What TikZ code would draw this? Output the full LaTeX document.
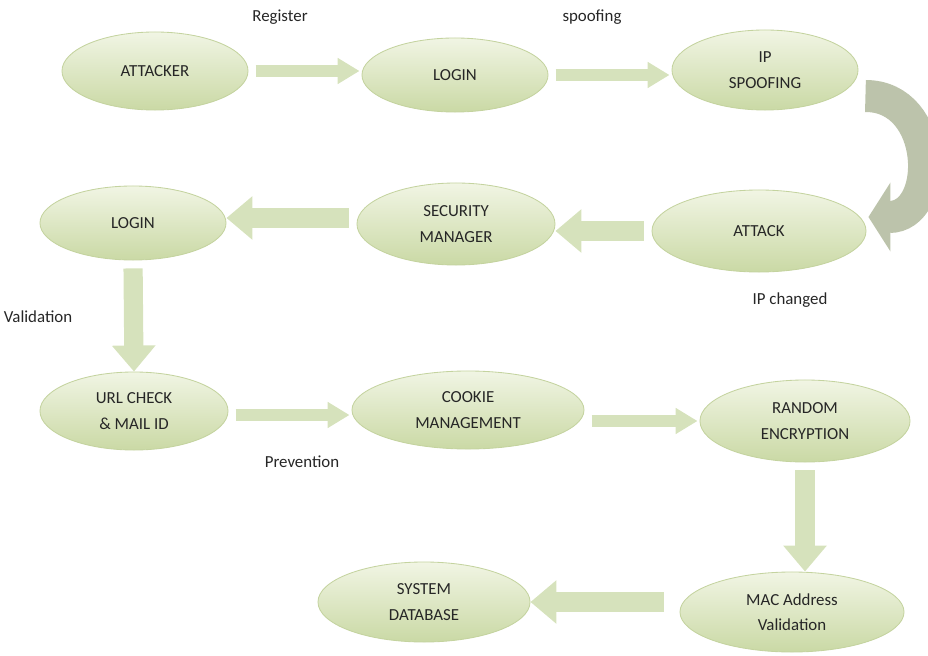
\documentclass[tikz,border=0pt]{standalone}
\usepackage{fontspec}
\setmainfont{Carlito}
\usetikzlibrary{shapes.geometric,arrows.meta}
\definecolor{ellTop}{HTML}{F1F5E4}
\definecolor{ellBot}{HTML}{CAD9A5}
\definecolor{ellEdge}{HTML}{C4D39F}
\definecolor{flowFill}{HTML}{D6E2BC}
\definecolor{bendFill}{HTML}{BCC3AB}
\definecolor{txt}{HTML}{262626}

\begin{document}
\begin{tikzpicture}[x=0.025cm,y=-0.025cm,
   stage/.style={ellipse,draw=ellEdge,line width=0.6pt,top color=ellTop,bottom color=ellBot,
                 text=txt,align=center,inner sep=0pt,
                 font=\fontsize{12}{18}\selectfont},
   flow/.style={draw=flowFill,line width=0.3cm,
                -{Triangle[length=0.55cm,width=0.62cm]},
                shorten <=0.18cm,shorten >=0.05cm},
   bigflow/.style={draw=flowFill,line width=0.48cm,
                -{Triangle[length=0.65cm,width=1.05cm]},
                shorten <=0.2cm},
   turnflow/.style={draw=bendFill,line width=0.8cm,
                -{Triangle[length=0.55cm,width=1.7cm]}},
   note/.style={text=txt,font=\fontsize{12}{14}\selectfont}]

\useasboundingbox (0,0) rectangle (928,656);

% first row
\node[stage,minimum width=4.65cm,minimum height=1.95cm] (attacker) at (155,71) {ATTACKER};
\node[stage,minimum width=4.65cm,minimum height=1.85cm] (login1) at (455,75) {LOGIN};
\node[stage,minimum width=4.65cm,minimum height=2cm] (ipspoof) at (765,70) {IP\\SPOOFING};

% second row
\node[stage,minimum width=5.35cm,minimum height=2.05cm] (attack) at (759,231) {ATTACK};
\node[stage,minimum width=4.95cm,minimum height=2.05cm] (security) at (456,224) {SECURITY\\MANAGER};
\node[stage,minimum width=4.65cm,minimum height=1.85cm] (login2) at (133,223) {LOGIN};

% third row
\node[stage,minimum width=4.7cm,minimum height=1.95cm] (url) at (134,411) {URL CHECK\\\& MAIL ID};
\node[stage,minimum width=5.8cm,minimum height=1.95cm] (cookie) at (468,410) {COOKIE\\MANAGEMENT};
\node[stage,minimum width=5.25cm,minimum height=2.05cm] (random) at (805,421) {RANDOM\\ENCRYPTION};

% last row
\node[stage,minimum width=5.6cm,minimum height=2cm] (mac) at (792,612) {MAC Address\\Validation};
\node[stage,minimum width=5.3cm,minimum height=2cm] (sysdb) at (424,602) {SYSTEM\\DATABASE};

% arrows
\draw[flow] (attacker.east) -- (attacker.east -| login1.west);
\draw[flow] (login1.east) -- (login1.east -| ipspoof.west);
\draw[turnflow] ([shift={(7,26)}]ipspoof.east) .. controls (938,96) and (940,217)
            .. ([shift={(2,-14)}]attack.east);
\draw[bigflow] (attack.west) -- (attack.west -| security.east);
\draw[bigflow] ([yshift=0.15cm]security.west) -- ([yshift=0.15cm]security.west -| login2.east);
\draw[bigflow] (login2.south) -- (url.north);
\draw[flow] ([yshift=-0.1cm]url.east) -- ([yshift=-0.1cm]url.east -| cookie.west);
\draw[flow] (random.west -| cookie.east) -- (random.west);
\draw[bigflow] (random.south) -- (random.south |- mac.north);
\draw[bigflow,shorten <=0.4cm] (sysdb.east -| mac.west) -- (sysdb.east);

% labels
\node[note] (register) at (280,17) {Register};
\node[note] (spoofing) at (592,17) {spoofing};
\node[note] (ipchanged) at (790,300) {IP changed};
\node[note] (validation) at (38,317) {Validation};
\node[note] (prevention) at (302,462) {Prevention};

\end{tikzpicture}
\end{document}
